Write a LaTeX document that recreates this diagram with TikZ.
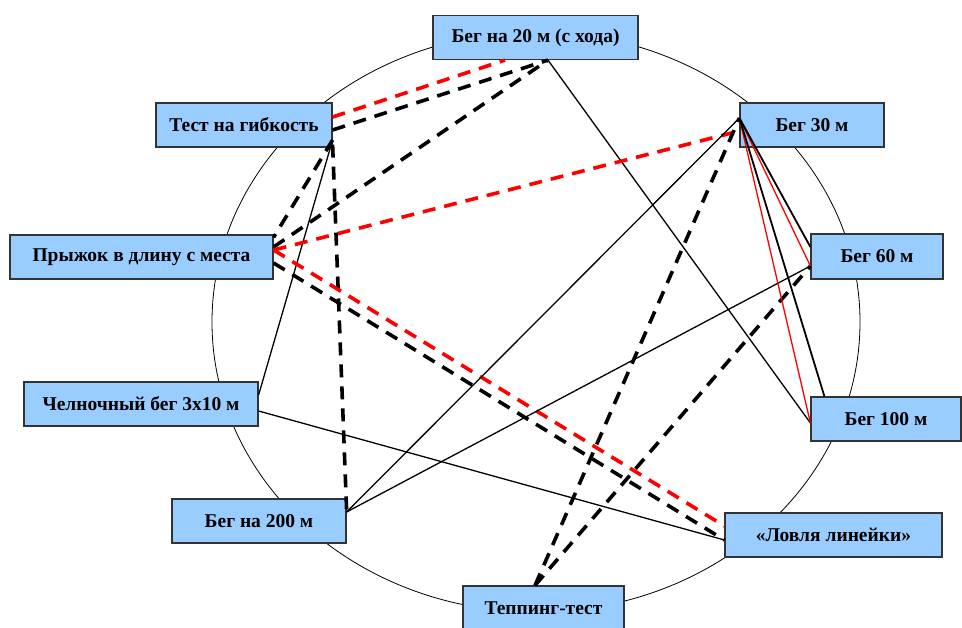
\documentclass[tikz,border=0pt]{standalone}
\usepackage{fontspec}
\setmainfont{Liberation Serif}
\definecolor{boxFill}{RGB}{153, 204, 255}
\definecolor{boxLine}{RGB}{51, 51, 51}
\definecolor{linkRed}{RGB}{255, 0, 0}
\tikzset{
  testbox/.style={draw=boxLine, line width=1.2pt, fill=boxFill, inner sep=0pt,
    minimum height=44pt, font=\fontsize{19.5}{22}\selectfont\bfseries},
  thinlink/.style={line width=1.3pt},
  dashlink/.style={line width=3.6pt, dash pattern=on 13pt off 9pt},
}

\begin{document}
\begin{tikzpicture}[x=1pt, y=-1pt]
        \useasboundingbox (0,0) rectangle (962,628);
        \draw[line width=0.8pt] (536,322) ellipse [x radius=324, y radius=290];

        % tests
        \node[testbox, minimum width=205pt] (top20) at (535.5,37.5) {Бег на 20 м (с хода)};
        \node[testbox, minimum width=176pt] (flex) at (244,125) {Тест на гибкость};
        \node[testbox, minimum width=263pt] (jump) at (141.5,257) {Прыжок в длину с места};
        \node[testbox, minimum width=234pt] (shuttle) at (141,404) {Челночный бег 3x10 м};
        \node[testbox, minimum width=174pt] (run200) at (259,521) {Бег на 200 м};
        \node[testbox, minimum width=161pt] (tapping) at (543.5,608) {Теппинг-тест};
        \node[testbox, minimum width=144pt] (run30) at (812,125) {Бег 30 м};
        \node[testbox, minimum width=132pt, minimum height=45pt] (run60) at (877,256.5) {Бег 60 м};
        \node[testbox, minimum width=150pt] (run100) at (886,419) {Бег 100 м};
        \node[testbox, minimum width=217pt] (ruler) at (833.5,535) {«Ловля линейки»};

        % links
        \draw[thinlink] ([xshift=12.5]top20.south) -- ([yshift=-4]run100.west);
        \draw[dashlink, linkRed] ([yshift=8]flex.east) -- ([xshift=-30.5]top20.south);
        \draw[dashlink] ([yshift=-5]flex.east) -- ([xshift=12.5]top20.south);
        \draw[dashlink] ([yshift=10]jump.east) -- ([xshift=12.5]top20.south);
        \draw[dashlink] ([yshift=-15]flex.east) -- ([yshift=-3]jump.north east);
        \draw[thinlink] ([yshift=-15]flex.east) -- ([yshift=9]shuttle.east);
        \draw[dashlink] ([yshift=3]flex.south east) -- ([yshift=11]run200.east);
        \draw[dashlink, linkRed] ([yshift=7]jump.east) -- ([yshift=-6]run30.west);
        \draw[dashlink, linkRed] ([yshift=7]jump.east) -- ([yshift=9]ruler.west);
        \draw[dashlink] ([yshift=-6]jump.east) -- ([yshift=-5]ruler.west);
        \draw[thinlink] ([yshift=-7]shuttle.east) -- ([yshift=-5]ruler.west);
        \draw[thinlink] ([yshift=9]run200.east) -- ([yshift=7]run30.west);
        \draw[thinlink] ([yshift=9]run200.east) -- ([yshift=-9.5]run60.west);
        \draw[dashlink] ([xshift=-8.5]tapping.north) -- ([yshift=7]run30.west);
        \draw[dashlink] ([xshift=-8.5]tapping.north) -- ([yshift=-9.5]run60.west);
        \draw[thinlink, linkRed] ([yshift=7]run30.west) -- ([yshift=-9.5]run60.west);
        \draw[thinlink, linkRed] ([yshift=7]run30.west) -- ([yshift=-4]run100.west);
        \draw[thinlink, line width=1.8pt] ([yshift=7]run30.west) -- ([yshift=9.5]run60.west);
        \draw[thinlink, line width=1.8pt] ([yshift=7]run30.west) -- ([xshift=14]run100.north west);
      \end{tikzpicture}
\end{document}
